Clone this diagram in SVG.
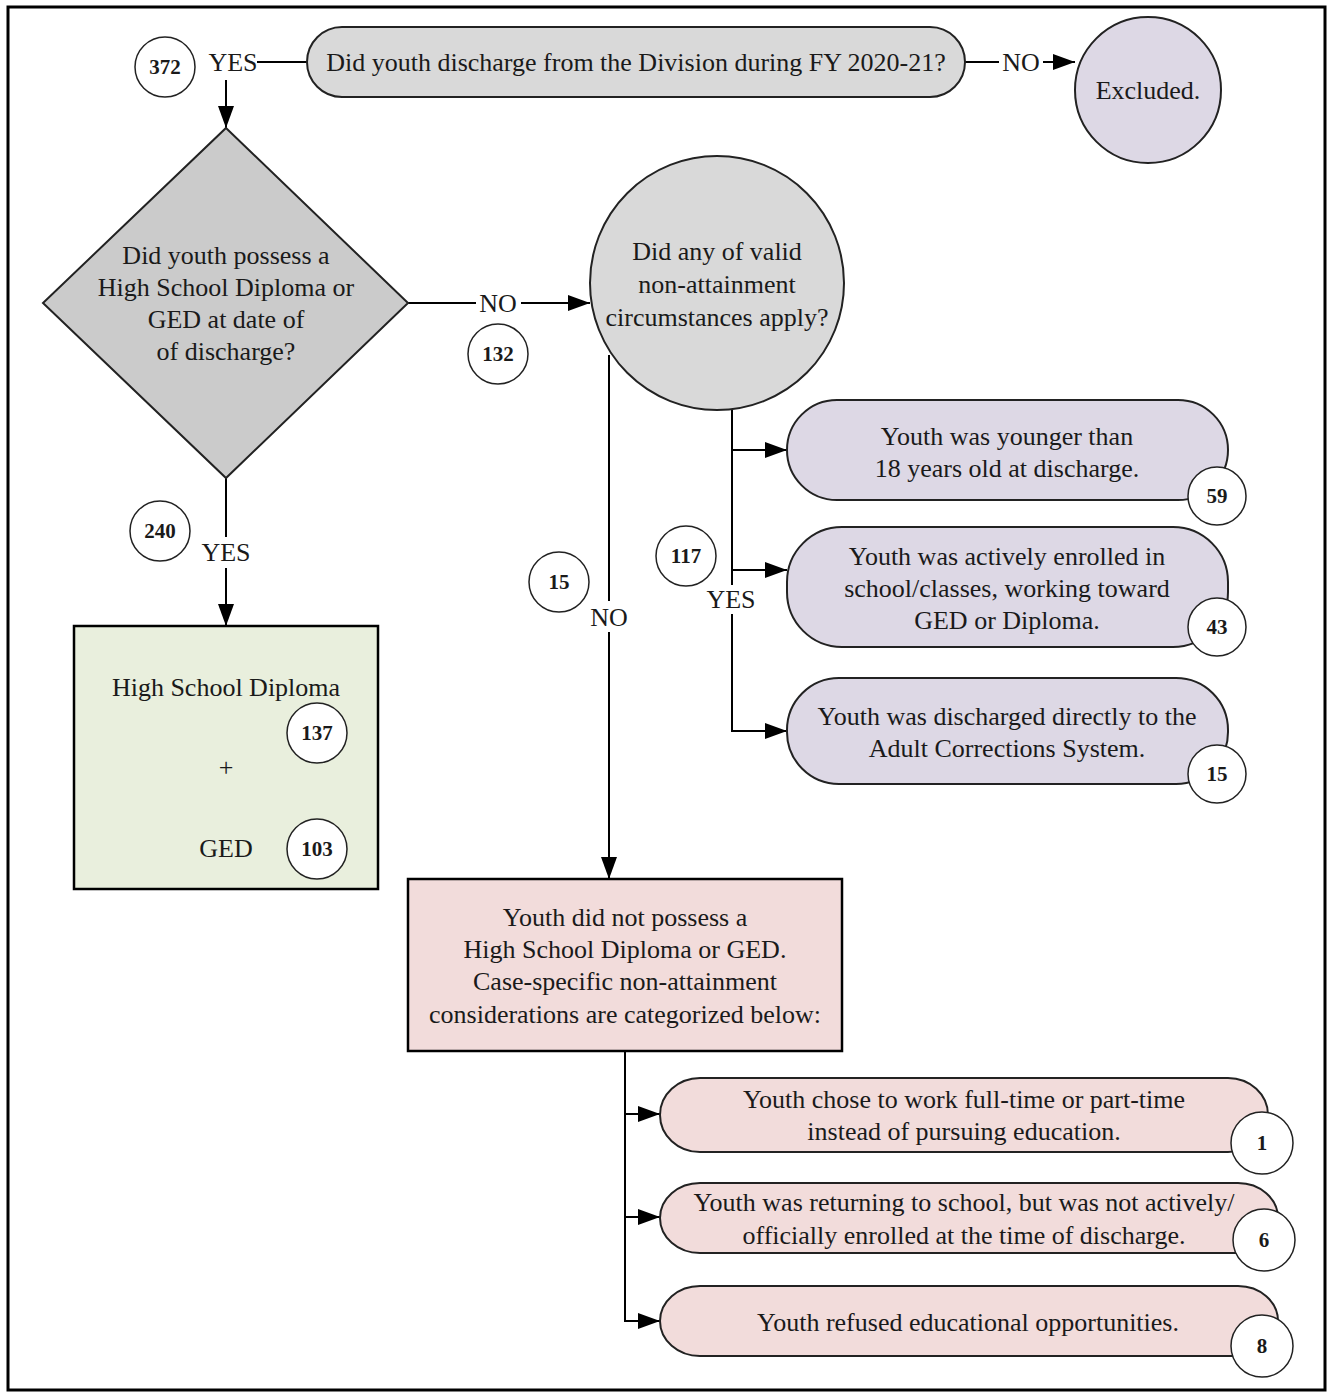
<svg xmlns="http://www.w3.org/2000/svg" width="1331" height="1393" viewBox="0 0 1331 1393">
  <defs>
    <marker id="arrow" viewBox="0 0 22 16" refX="22" refY="8" markerWidth="22" markerHeight="16" markerUnits="userSpaceOnUse" orient="auto">
      <path d="M0,0 L22,8 L0,16 Z" fill="#000"/>
    </marker>
    <style>
      text { font-family: "Liberation Serif", "Times New Roman", serif; fill: #1a1a1a; }
      .t { font-size: 26px; text-anchor: middle; }
      .lbl { font-size: 26px; text-anchor: middle; }
      .num { font-size: 21px; font-weight: bold; text-anchor: middle; }
      .badge { fill: #fff; stroke: #222; stroke-width: 1.5; }
      .shape { stroke: #222; stroke-width: 2; }
      .gray { fill: #d9d9d9; }
      .dgray { fill: #cbcbcb; }
      .lav { fill: #ddd8e5; }
      .green { fill: #e9efdd; }
      .pink { fill: #f2dcdb; }
      .conn { fill: none; stroke: #000; stroke-width: 2; }
    </style>
  </defs>

  <rect x="0" y="0" width="1331" height="1393" fill="#fff"/>
  <!-- outer frame -->
  <rect x="8" y="7" width="1317" height="1383" fill="none" stroke="#000" stroke-width="3"/>

  <!-- connectors -->
  <g id="connectors">
    <path class="conn" d="M257,62 H307"/>
    <path class="conn" d="M226,80 V128" marker-end="url(#arrow)"/>
    <path class="conn" d="M965,62 H999"/>
    <path class="conn" d="M1043,62 H1075" marker-end="url(#arrow)"/>
    <path class="conn" d="M408,303 H476"/>
    <path class="conn" d="M521,303 H590" marker-end="url(#arrow)"/>
    <path class="conn" d="M226,478 V537"/>
    <path class="conn" d="M226,568 V626" marker-end="url(#arrow)"/>
    <path class="conn" d="M609,355 V601"/>
    <path class="conn" d="M609,632 V879" marker-end="url(#arrow)"/>
    <path class="conn" d="M732,410 V585"/>
    <path class="conn" d="M732,614 V731 H787" marker-end="url(#arrow)"/>
    <path class="conn" d="M732,450 H787" marker-end="url(#arrow)"/>
    <path class="conn" d="M732,570 H787" marker-end="url(#arrow)"/>
    <path class="conn" d="M625,1051 V1321 H660" marker-end="url(#arrow)"/>
    <path class="conn" d="M625,1114 H660" marker-end="url(#arrow)"/>
    <path class="conn" d="M625,1217 H660" marker-end="url(#arrow)"/>

    <text class="lbl" x="233" y="71">YES</text>
    <text class="lbl" x="1021" y="71">NO</text>
    <text class="lbl" x="498" y="312">NO</text>
    <text class="lbl" x="226" y="561">YES</text>
    <text class="lbl" x="609" y="626">NO</text>
    <text class="lbl" x="731" y="608">YES</text>

    <circle class="badge" cx="165" cy="67" r="30"/>
    <text class="num" x="165" y="74">372</text>
    <circle class="badge" cx="498" cy="354" r="30"/>
    <text class="num" x="498" y="361">132</text>
    <circle class="badge" cx="160" cy="531" r="30"/>
    <text class="num" x="160" y="538">240</text>
    <circle class="badge" cx="559" cy="582" r="30"/>
    <text class="num" x="559" y="589">15</text>
    <circle class="badge" cx="686" cy="556" r="30"/>
    <text class="num" x="686" y="563">117</text>
  </g>

  <!-- discharge question -->
  <g id="q-discharge">
    <rect class="shape gray" x="307" y="27" width="658" height="70" rx="35" ry="35"/>
    <text class="t" x="636" y="71">Did youth discharge from the Division during FY 2020-21?</text>
  </g>

  <g id="excluded">
    <circle class="shape lav" cx="1148" cy="90" r="73"/>
    <text class="t" x="1148" y="99">Excluded.</text>
  </g>

  <!-- diploma question -->
  <g id="q-diploma">
    <polygon class="shape dgray" points="226,128 408,303 226,478 43,303"/>
    <text class="t" x="226" y="264">Did youth possess a</text>
    <text class="t" x="226" y="296">High School Diploma or</text>
    <text class="t" x="226" y="328">GED at date of</text>
    <text class="t" x="226" y="360">of discharge?</text>
  </g>

  <!-- circumstances question -->
  <g id="q-circumstances">
    <circle class="shape gray" cx="717" cy="283" r="127"/>
    <text class="t" x="717" y="260">Did any of valid</text>
    <text class="t" x="717" y="293">non-attainment</text>
    <text class="t" x="717" y="326">circumstances apply?</text>
  </g>

  <!-- attained -->
  <g id="attained">
    <rect x="74" y="626" width="304" height="263" fill="#e9efdd" stroke="#000" stroke-width="2.5"/>
    <text class="t" x="226" y="696">High School Diploma</text>
    <text class="t" x="226" y="776">+</text>
    <text class="t" x="226" y="857">GED</text>
    <circle class="badge" cx="317" cy="733" r="30"/>
    <text class="num" x="317" y="740">137</text>
    <circle class="badge" cx="317" cy="849" r="30"/>
    <text class="num" x="317" y="856">103</text>
  </g>

  <!-- valid circumstances -->
  <g id="valid-younger">
    <rect class="shape lav" x="787" y="400" width="441" height="100" rx="50" ry="50"/>
    <text class="t" x="1007" y="445">Youth was younger than</text>
    <text class="t" x="1007" y="477">18 years old at discharge.</text>
    <circle class="badge" cx="1217" cy="496" r="29"/>
    <text class="num" x="1217" y="503">59</text>
  </g>
  <g id="valid-enrolled">
    <rect class="shape lav" x="787" y="527" width="441" height="120" rx="55" ry="55"/>
    <text class="t" x="1007" y="565">Youth was actively enrolled in</text>
    <text class="t" x="1007" y="597">school/classes, working toward</text>
    <text class="t" x="1007" y="629">GED or Diploma.</text>
    <circle class="badge" cx="1217" cy="627" r="29"/>
    <text class="num" x="1217" y="634">43</text>
  </g>
  <g id="valid-adult">
    <rect class="shape lav" x="787" y="678" width="441" height="106" rx="52" ry="52"/>
    <text class="t" x="1007" y="725">Youth was discharged directly to the</text>
    <text class="t" x="1007" y="757">Adult Corrections System.</text>
    <circle class="badge" cx="1217" cy="774" r="29"/>
    <text class="num" x="1217" y="781">15</text>
  </g>

  <!-- not attained -->
  <g id="not-attained">
    <rect x="408" y="879" width="434" height="172" fill="#f2dcdb" stroke="#000" stroke-width="2.5"/>
    <text class="t" x="625" y="926">Youth did not possess a</text>
    <text class="t" x="625" y="958">High School Diploma or GED.</text>
    <text class="t" x="625" y="990">Case-specific non-attainment</text>
    <text class="t" x="625" y="1023">considerations are categorized below:</text>
  </g>

  <g id="case-work">
    <rect class="shape pink" x="660" y="1078" width="608" height="74" rx="40" ry="37"/>
    <text class="t" x="964" y="1108">Youth chose to work full-time or part-time</text>
    <text class="t" x="964" y="1140">instead of pursuing education.</text>
    <circle class="badge" cx="1262" cy="1143" r="31"/>
    <text class="num" x="1262" y="1150">1</text>
  </g>
  <g id="case-returning">
    <rect class="shape pink" x="660" y="1183" width="618" height="70" rx="40" ry="35"/>
    <text class="t" x="964" y="1211">Youth was returning to school, but was not actively/</text>
    <text class="t" x="964" y="1244">officially enrolled at the time of discharge.</text>
    <circle class="badge" cx="1264" cy="1240" r="31"/>
    <text class="num" x="1264" y="1247">6</text>
  </g>
  <g id="case-refused">
    <rect class="shape pink" x="660" y="1286" width="618" height="70" rx="40" ry="35"/>
    <text class="t" x="968" y="1331">Youth refused educational opportunities.</text>
    <circle class="badge" cx="1262" cy="1346" r="31"/>
    <text class="num" x="1262" y="1353">8</text>
  </g>
</svg>
